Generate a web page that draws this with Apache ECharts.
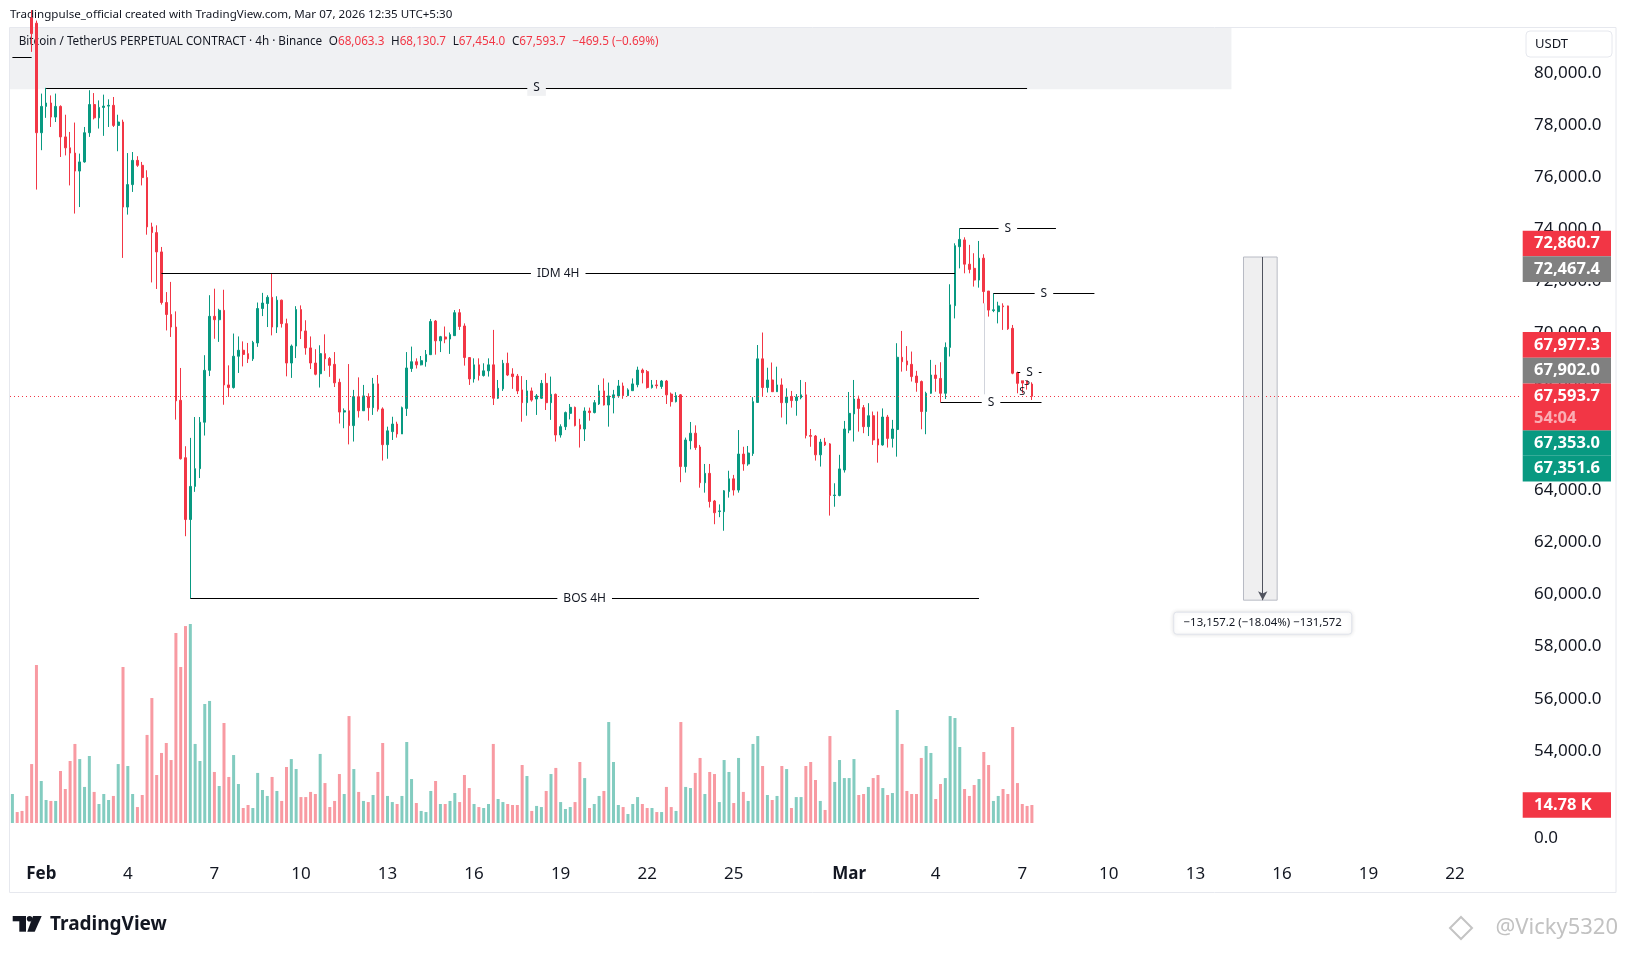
<!DOCTYPE html>
<html>
<head>
<meta charset="utf-8">
<title>BTCUSDT.P 4h - Binance</title>
<script src="https://cdn.jsdelivr.net/npm/echarts@6/dist/echarts.min.js"></script>
<style>
  html, body { margin: 0; padding: 0; background: #ffffff; }
  #main { width: 1626px; height: 954px; }
</style>
</head>
<body>
<div id="main"></div>
<script>
// 4h candles, slot 0 = Jan 31 01:30 (UTC+5:30), one line = one day
const opens = [
  83500, 84000, 83300, 82800, 82100, 81900,
  77700, 78710, 78840, 78300, 78710, 77540,
  77120, 76920, 76230, 76580, 77700, 78780,
  78270, 78670, 78720, 78750, 77980, 78110,
  74850, 75710, 76640, 76450, 75980, 74090,
  73870, 73130, 71190, 70730, 70250, 67440,
  65240, 62870, 64140, 64820, 66600, 68590,
  70660, 70530, 70890, 68030, 67930, 69130,
  69360, 69230, 69030, 69640, 70960, 71150,
  71390, 70250, 71280, 70380, 68870, 69520,
  70920, 70100, 69450, 68870, 68460, 69230,
  69040, 68820, 68130, 66990, 67040, 66470,
  67580, 67040, 67580, 67160, 68070, 67110,
  65740, 66240, 66530, 66150, 67130, 68660,
  68920, 68800, 68920, 69190, 70480, 69720,
  69870, 69790, 69920, 70800, 70290, 69080,
  68260, 68800, 68390, 68570, 68800, 67520,
  67880, 68860, 68450, 68370, 67840, 67350,
  67800, 67490, 67520, 68090, 67350, 67670,
  66110, 66430, 66940, 67170, 66500, 66340,
  67030, 66970, 67300, 67800, 67260, 67540,
  67610, 67990, 67620, 67810, 68040, 68600,
  68540, 67930, 68030, 67970, 68180, 67680,
  67390, 67650, 64900, 65890, 66180, 65650,
  64280, 64640, 63580, 63180, 63170, 63940,
  64430, 64000, 65380, 65000, 65400, 67360,
  69030, 67930, 68220, 67770, 68030, 67350,
  67590, 67430, 67540, 67650, 66090, 66070,
  65350, 65840, 65770, 63790, 63790, 64770,
  66300, 66920, 67490, 67160, 66430, 66850,
  65960, 65730, 66800, 65980, 66320, 69090,
  68950, 68820, 68370, 68160, 67010, 67710,
  68410, 68280, 67710, 69470, 71070, 73330,
  73590, 72660, 72500, 72050, 72890, 71630,
  70880, 70840, 71060, 71060, 70200, 68500,
  68400, 68350, 68063.3
];
const highs = [
  84300, 84100, 83500, 83000, 82400, 82000,
  79200, 79420, 79130, 79200, 78750, 78390,
  77730, 78090, 76900, 77920, 79330, 79220,
  78940, 79160, 78980, 79070, 78390, 78200,
  76920, 76960, 76800, 76580, 76260, 74250,
  74150, 73320, 71590, 71980, 70850, 68680,
  65680, 66000, 66800, 66800, 69170, 71470,
  71720, 70950, 71680, 68780, 70000, 69890,
  69700, 69640, 69720, 71190, 71560, 71470,
  72310, 71430, 71300, 70570, 69580, 71050,
  71080, 70510, 69890, 69400, 69550, 69970,
  69100, 69290, 68270, 67130, 68830, 67840,
  68320, 68030, 67710, 68300, 68410, 67170,
  66430, 66810, 66620, 67200, 69290, 69500,
  69050, 69140, 69370, 70560, 70520, 69910,
  70270, 70040, 70900, 70940, 70390, 69100,
  69050, 69050, 68860, 69050, 70140, 68220,
  68990, 69270, 68670, 68450, 68370, 68220,
  67930, 67680, 68220, 68480, 68350, 67700,
  66520, 67010, 67300, 67200, 66730, 67170,
  67160, 67450, 68030, 68280, 68120, 67840,
  68220, 68120, 67900, 68280, 68730, 68660,
  68600, 68220, 68220, 68220, 68220, 67740,
  67750, 67680, 66010, 66610, 66480, 65730,
  65000, 65000, 63620, 63450, 64000, 64740,
  64580, 66300, 65660, 65690, 67560, 69560,
  70040, 68690, 68890, 68730, 68280, 67900,
  67800, 67680, 68220, 68140, 66340, 66110,
  65960, 66000, 65800, 64260, 65350, 66650,
  67760, 68220, 67620, 67260, 67330, 67010,
  67010, 67130, 66880, 66690, 69630, 70100,
  69520, 69310, 68570, 68200, 67770, 68990,
  68800, 68900, 69660, 71890, 73460, 74035,
  73690, 73400, 73080, 73550, 73040, 71630,
  71543, 71220, 71160, 71070, 70330, 68540,
  68450, 68540, 68130.7
];
const lows = [
  83200, 82900, 82500, 81900, 80800, 75520,
  77030, 78270, 77920, 78110, 76770, 76830,
  75680, 74600, 74850, 76550, 77540, 78210,
  77860, 77580, 77920, 77920, 76990, 72900,
  74560, 75430, 76390, 75680, 73790, 71960,
  71710, 71110, 70120, 69870, 66700, 65170,
  62230, 59850, 63930, 64460, 66090, 68370,
  69800, 69680, 67270, 67570, 67890, 68490,
  68740, 68870, 68950, 69490, 70670, 70250,
  69930, 70020, 70230, 68360, 68300, 69060,
  69790, 69190, 68640, 68400, 67930, 68570,
  68340, 67950, 66550, 66370, 65750, 65860,
  66780, 67040, 66660, 66880, 67010, 65130,
  65200, 65920, 66010, 66150, 66840, 68530,
  68660, 68780, 68730, 69180, 69190, 69290,
  69630, 69220, 69920, 70140, 68770, 68030,
  68120, 68200, 68350, 68350, 67260, 67490,
  67800, 68370, 67880, 67680, 66620, 66850,
  67390, 66880, 67490, 67070, 66690, 65860,
  66010, 66300, 66710, 66440, 65630, 65880,
  66660, 66940, 67260, 67240, 66430, 66940,
  67540, 67500, 67600, 67800, 67940, 68090,
  67890, 67890, 67890, 67880, 67300, 67200,
  67360, 64300, 64670, 65560, 65540, 64090,
  63900, 63330, 62690, 62960, 62440, 63710,
  63790, 63900, 64740, 64930, 65310, 67350,
  67580, 67740, 67760, 67760, 66780, 66520,
  67160, 66850, 67480, 65980, 65660, 65130,
  64900, 65690, 63020, 63360, 63760, 64670,
  66180, 65860, 66240, 66180, 66070, 65730,
  65050, 65700, 65630, 65630, 65280, 68540,
  68570, 68160, 67770, 66330, 66140, 67690,
  67770, 67364, 67490, 69120, 70580, 72500,
  72310, 72310, 71800, 71760, 71160, 70650,
  70820, 70390, 70140, 70140, 68440, 67710,
  67710, 67850, 67454.0
];
const closes = [
  84000, 83300, 82800, 82200, 81500, 77700,
  78710, 78840, 78300, 78710, 77540, 77120,
  76920, 76230, 76580, 77700, 78780, 78270,
  78670, 78720, 78750, 77980, 78110, 74850,
  75710, 76640, 76450, 75980, 74090, 73870,
  73130, 71190, 70730, 70250, 67420, 65200,
  62870, 64140, 64820, 66600, 68590, 70660,
  70530, 70890, 68030, 67930, 69130, 69360,
  69200, 69030, 69660, 70960, 71170, 71390,
  70250, 71280, 70380, 68870, 69520, 70920,
  70100, 69450, 68870, 68440, 69230, 69030,
  68780, 68110, 66990, 67040, 66470, 67580,
  67040, 67610, 67160, 68070, 67100, 65740,
  66270, 66530, 66150, 67160, 68680, 68920,
  68800, 68960, 69200, 70460, 69720, 69880,
  69790, 69960, 70800, 70270, 69080, 68260,
  68800, 68390, 68570, 68800, 67520, 67900,
  68860, 68410, 68350, 67800, 67350, 67800,
  67450, 67610, 68090, 67350, 67670, 66110,
  66430, 66970, 67170, 66470, 66340, 67030,
  66970, 67350, 67800, 67260, 67610, 67650,
  67990, 67620, 67840, 68070, 68600, 68500,
  67930, 68030, 68000, 68180, 67650, 67390,
  67620, 64900, 65920, 66180, 65630, 64280,
  64640, 63560, 63130, 63200, 63970, 64430,
  64000, 65380, 65000, 65420, 67390, 69030,
  67930, 68220, 67770, 68030, 67350, 67570,
  67430, 67570, 67650, 66090, 66060, 65350,
  65840, 65730, 63790, 63810, 64810, 66340,
  66940, 67490, 67130, 66430, 66850, 65920,
  65730, 66800, 65980, 66340, 69090, 68920,
  68800, 68350, 68120, 67010, 67710, 68410,
  68280, 67710, 69470, 71100, 73370, 73610,
  72660, 72460, 72050, 72890, 71610, 70900,
  70910, 71060, 71030, 70180, 68480, 68090,
  68100, 68063, 67593.7
];
// volume in thousands of BTC
const volumes = [
  23.8, 9.0, 9.9, 22.2, 48.4, 129.7,
  34.5, 18.9, 18.1, 18.1, 42.7, 27.9,
  50.9, 64.9, 52.5, 29.6, 55.0, 25.5,
  15.6, 23.8, 18.9, 22.2, 48.4, 128.1,
  46.8, 23.8, 13.1, 23.0, 72.3, 102.6,
  39.4, 57.5, 65.7, 51.7, 156.0, 128.1,
  161.7, 163.4, 64.9, 50.9, 97.7, 100.2,
  41.9, 30.4, 82.1, 37.8, 55.8, 32.0,
  12.3, 14.8, 12.3, 41.1, 27.1, 22.2,
  37.8, 26.3, 18.1, 46.0, 52.5, 44.3,
  21.3, 21.3, 25.5, 23.8, 56.7, 32.8,
  13.1, 18.1, 40.2, 23.8, 87.8, 44.3,
  25.5, 18.1, 17.2, 23.0, 41.9, 65.7,
  22.2, 17.2, 15.6, 22.2, 66.5, 36.1,
  16.4, 9.9, 9.0, 26.3, 34.5, 15.6,
  15.6, 18.1, 24.6, 17.2, 39.4, 28.7,
  15.6, 13.1, 12.3, 15.6, 64.9, 19.7,
  17.2, 15.6, 14.8, 14.8, 47.6, 38.6,
  9.9, 14.0, 13.1, 26.3, 40.2, 45.2,
  17.2, 11.5, 13.1, 17.2, 50.1, 36.9,
  12.3, 15.6, 22.2, 26.3, 82.9, 50.1,
  14.8, 13.1, 7.4, 15.6, 21.3, 15.6,
  12.3, 12.3, 9.0, 9.0, 29.6, 13.1,
  9.9, 82.9, 29.6, 28.7, 41.1, 53.4,
  23.8, 41.9, 40.2, 17.2, 51.7, 41.9,
  16.4, 53.4, 25.5, 18.1, 64.9, 71.4,
  46.8, 23.0, 18.9, 22.2, 46.8, 44.3,
  12.3, 21.3, 21.3, 46.8, 50.1, 35.3,
  18.1, 10.7, 71.4, 33.7, 51.7, 36.9,
  36.9, 52.5, 23.0, 23.8, 29.6, 36.9,
  39.4, 28.7, 23.0, 24.6, 92.8, 64.9,
  26.3, 23.8, 23.8, 53.4, 63.2, 57.5,
  19.7, 32.0, 36.9, 87.8, 86.2, 62.4,
  27.9, 22.2, 31.2, 36.1, 58.3, 47.6,
  18.1, 22.2, 27.9, 23.8, 78.8, 32.8,
  15.6, 14.0, 14.78
];

// time axis: labels every 3 days, month names at month start
const tickLabels = ['Feb', '4', '7', '10', '13', '16', '19', '22', '25', 'Mar', '4', '7', '10', '13', '16', '19', '22'];
const tickDays = [0, 3, 6, 9, 12, 15, 18, 21, 24, 28, 31, 34, 37, 40, 43, 46, 49]; // days after Feb 1

// drawn levels (from slot, to slot, price, text)
const levelFrom = [0, 7, 31, 37, 197, 204, 193, 209];
const levelTo = [4, 211, 196, 201, 217, 225, 214, 214];
const levelPrice = [80578, 79420, 72305, 59850, 74035, 71543, 67364, 68513];
const levelText = ['', 'S', 'IDM 4H', 'BOS 4H', 'S', 'S', 'S', 'S'];

// price range measure
const measureFrom = 72935;
const measureTo = 59778;
const measureText = '\u221213,157.2 (\u221218.04%) \u2212131,572';

// right scale tags
const lastPrice = 67593.7;
const countdown = '54:04';
const tagPrices = [72860.7, 72467.4, 67977.3, 67902.0, 67353.0, 67351.6];
const tagKinds = ['down', 'gray', 'down', 'gray', 'up', 'up'];
const lastVolume = 14.78;

const FONT = "'Noto Sans', 'DejaVu Sans', sans-serif";
const UP = '#089981';
const DOWN = '#F23645';
const GRAY = '#808080';
const INK = '#131722';

const slotCount = 314;
const startMs = Date.UTC(2026, 0, 30, 20, 0); // Jan 31 01:30 UTC+5:30
const slots = [];
for (let i = 0; i < slotCount; i++) {
  slots.push(new Date(startMs + i * 4 * 3600 * 1000).toISOString().slice(0, 16));
}
const tickAt = {};
tickDays.forEach((d, k) => { tickAt[6 + d * 6] = tickLabels[k]; });

const fmt1 = v => v.toLocaleString('en-US', { minimumFractionDigits: 1, maximumFractionDigits: 1 });

const candles = opens.map((o, i) => [o, closes[i], lows[i], highs[i]]);
const volumeBars = volumes.map((v, i) => ({
  value: v,
  itemStyle: { color: closes[i] >= opens[i] ? 'rgba(8,153,129,0.5)' : 'rgba(242,54,69,0.5)' }
}));

const levelLines = levelPrice.map((p, k) => [
  {
    coord: [levelFrom[k], p],
    lineStyle: { color: '#000000', width: 1, type: 'solid' },
    label: levelText[k] ? {
      show: true, position: 'middle', distance: 0, verticalAlign: 'middle',
      formatter: levelText[k], color: INK, fontSize: 12, fontFamily: FONT,
      backgroundColor: k === 1 ? '#f0f1f3' : '#ffffff', padding: [2, 6]
    } : { show: false }
  },
  { coord: [levelTo[k], p] }
]);

const markLines = [
  // last price, dotted across the pane
  { yAxis: lastPrice, lineStyle: { color: DOWN, width: 1, type: [1, 3] }, label: { show: false } },
  ...levelLines,
  [
    { coord: [202, 71160], lineStyle: { color: '#d1d4dc', width: 1, type: 'solid' }, label: { show: false } },
    { coord: [202, 67364] }
  ],
  [
    { coord: [260, measureFrom], symbol: 'none', lineStyle: { color: '#50535e', width: 1, type: 'solid' }, label: { show: false } },
    { coord: [260, measureTo], symbol: 'arrow', symbolSize: [7, 9] }
  ]
];

const chart = echarts.init(document.getElementById('main'));

const option = {
  animation: false,
  backgroundColor: '#ffffff',
  textStyle: { fontFamily: FONT },
  grid: [
    { left: 10, right: 106, top: 28, height: 827.2 },
    { left: 10, right: 106, top: 579.4, height: 243.6 }
  ],
  xAxis: [
    {
      type: 'category', gridIndex: 0, data: slots, boundaryGap: true,
      axisLine: { show: false }, axisTick: { show: false }, splitLine: { show: false },
      axisLabel: {
        interval: (index) => tickAt[index] !== undefined,
        formatter: (value, index) => {
          const t = tickAt[index];
          if (t === undefined) return '';
          return (t === 'Feb' || t === 'Mar') ? '{m|' + t + '}' : t;
        },
        color: INK, fontSize: 17, fontFamily: FONT, margin: 10,
        rich: { m: { fontWeight: 'bold', fontSize: 17, color: INK, fontFamily: FONT } }
      }
    },
    {
      type: 'category', gridIndex: 1, data: slots, boundaryGap: true, show: false
    }
  ],
  yAxis: [
    {
      type: 'value', gridIndex: 0, position: 'right', min: 50000, max: 81715, interval: 2000,
      axisLine: { show: false }, axisTick: { show: false }, splitLine: { show: false },
      axisLabel: {
        margin: 14, color: INK, fontSize: 17, fontFamily: FONT,
        formatter: v => (v >= 52000 && v % 2000 === 0) ? fmt1(v) : ''
      }
    },
    { type: 'value', gridIndex: 1, min: 0, max: 200, show: false }
  ],
  series: [
    {
      name: 'Volume', type: 'bar', xAxisIndex: 1, yAxisIndex: 1,
      data: volumeBars, barWidth: 3, silent: true
    },
    {
      name: 'BTCUSDT.P', type: 'candlestick', xAxisIndex: 0, yAxisIndex: 0,
      data: candles, barWidth: 2.2, clip: true, silent: true, z: 3,
      itemStyle: { color: UP, color0: DOWN, borderColor: UP, borderColor0: DOWN, borderWidth: 1 },
      markLine: {
        silent: true, symbol: ['none', 'none'], animation: false,
        data: markLines
      },
      markArea: {
        silent: true, animation: false,
        itemStyle: { color: 'rgba(120,123,134,0.12)', borderColor: '#b8bbc4', borderWidth: 1 },
        data: [[{ coord: [256, measureFrom] }, { coord: [263, measureTo] }]]
      }
    }
  ]
};

chart.setOption(option);

// overlay texts and tags placed through the chart's own scales
const yPx = p => chart.convertToPixel({ yAxisIndex: 0 }, p);
const xPx = i => chart.convertToPixel({ xAxisIndex: 0 }, i);
const vPx = v => chart.convertToPixel({ yAxisIndex: 1 }, v);

const TAG_X = 1522.7;
const TAG_W = 88.3;
const TAG_H = 25.7;
const tagColor = { up: UP, down: DOWN, gray: GRAY };

// stack the tags away from the last-price tag, like the price scale does
const lastY = yPx(lastPrice);
const lastTop = lastY - TAG_H / 2;
const lastBottom = lastTop + 46.7;
const tags = tagPrices.map((p, k) => ({ p, color: tagColor[tagKinds[k]], y: yPx(p) }));
let edge = lastTop;
tags.filter(t => t.y <= lastY).sort((a, b) => b.y - a.y).forEach(t => {
  t.y = Math.min(t.y, edge - TAG_H / 2);
  edge = t.y - TAG_H / 2;
});
edge = lastBottom;
tags.filter(t => t.y > lastY).sort((a, b) => a.y - b.y).forEach(t => {
  t.y = Math.max(t.y, edge + TAG_H / 2);
  edge = t.y + TAG_H / 2;
});

const tagText = (x, y, text, color) => ({
  type: 'text', x, y, z: 101,
  style: { text, fill: color, font: 'bold 16.5px ' + FONT, verticalAlign: 'middle', align: 'left' }
});

const graphics = [];

// frame
graphics.push({
  type: 'rect', z: 0, silent: true,
  shape: { x: 9.5, y: 27.5, width: 1606.5, height: 865 },
  style: { fill: 'none', stroke: '#e6e8ee', lineWidth: 1 }
});

// legend band
graphics.push({
  type: 'rect', z: 0, silent: true,
  shape: { x: 10, y: 28, width: xPx(253) + 2.4 - 10, height: yPx(79364) - 28 },
  style: { fill: '#f0f1f3' }
});

// title lines
graphics.push({
  type: 'text', x: 10, y: 14.5, z: 1,
  style: {
    text: 'Tradingpulse_official created with TradingView.com, Mar 07, 2026 12:35 UTC+5:30',
    fill: INK, font: '11.6px ' + FONT, verticalAlign: 'middle'
  }
});
graphics.push({
  type: 'text', x: 18.7, y: 41.5, z: 1,
  style: {
    text: '{n|Bitcoin / TetherUS PERPETUAL CONTRACT \u00b7 4h \u00b7 Binance}  {n|O}{r|68,063.3}  {n|H}{r|68,130.7}  {n|L}{r|67,454.0}  {n|C}{r|67,593.7}  {r|\u2212469.5 (\u22120.69%)}',
    verticalAlign: 'middle',
    rich: {
      n: { fill: INK, font: '11.7px ' + FONT },
      r: { fill: DOWN, font: '11.7px ' + FONT }
    }
  }
});

// currency box
graphics.push({
  type: 'rect', z: 100, silent: true,
  shape: { x: 1526, y: 31, width: 86, height: 26, r: 4 },
  style: { fill: '#ffffff', stroke: '#e6e8ee', lineWidth: 1 }
});
graphics.push({
  type: 'text', x: 1535, y: 44.3, z: 101,
  style: { text: 'USDT', fill: INK, font: '13px ' + FONT, verticalAlign: 'middle' }
});

// volume scale zero
graphics.push({
  type: 'text', x: 1534, y: 838, z: 101,
  style: { text: '0.0', fill: INK, font: '17px ' + FONT, verticalAlign: 'middle' }
});

// price tags
tags.forEach(t => {
  graphics.push({ type: 'rect', z: 100, shape: { x: TAG_X, y: t.y - TAG_H / 2, width: TAG_W, height: TAG_H }, style: { fill: t.color } });
  graphics.push(tagText(1534, t.y, fmt1(t.p), '#ffffff'));
});
graphics.push({ type: 'rect', z: 100, shape: { x: TAG_X, y: lastTop, width: TAG_W, height: lastBottom - lastTop }, style: { fill: DOWN } });
graphics.push(tagText(1534, lastY, fmt1(lastPrice), '#ffffff'));
graphics.push(tagText(1534, lastY + 21.7, countdown, 'rgba(255,255,255,0.6)'));

const volY = vPx(lastVolume);
graphics.push({ type: 'rect', z: 100, shape: { x: TAG_X, y: volY - TAG_H / 2, width: TAG_W, height: TAG_H }, style: { fill: DOWN } });
graphics.push(tagText(1534, volY, lastVolume.toFixed(2) + ' K', '#ffffff'));

// small swing labels at the last candles
[[211, 68154], [210, 67770]].forEach(([s, p]) => {
  graphics.push({
    type: 'text', x: xPx(s), y: yPx(p), z: 5,
    style: { text: 'S', fill: INK, font: '11px ' + FONT, align: 'center', verticalAlign: 'middle' }
  });
});

// measure label
const mx = xPx(260);
const my = yPx(measureTo) + 23;
graphics.push({
  type: 'rect', z: 50,
  shape: { x: mx - 89, y: my - 11, width: 178, height: 22, r: 3 },
  style: { fill: '#ffffff', stroke: '#e0e3eb', lineWidth: 1, shadowBlur: 4, shadowColor: 'rgba(0,0,0,0.12)' }
});
graphics.push({
  type: 'text', x: mx, y: my, z: 51,
  style: { text: measureText, fill: INK, font: '11.4px ' + FONT, align: 'center', verticalAlign: 'middle' }
});

// TradingView logo
graphics.push({ type: 'rect', z: 1, shape: { x: 12.7, y: 916, width: 13.3, height: 5.3 }, style: { fill: INK } });
graphics.push({ type: 'rect', z: 1, shape: { x: 19.3, y: 916, width: 6.7, height: 15.7 }, style: { fill: INK } });
graphics.push({ type: 'circle', z: 1, shape: { cx: 29.6, cy: 918.7, r: 2.8 }, style: { fill: INK } });
graphics.push({ type: 'polygon', z: 1, shape: { points: [[33, 916], [41.7, 916], [34.7, 931.7], [27.3, 931.7]] }, style: { fill: INK } });
graphics.push({
  type: 'text', x: 50, y: 925, z: 1,
  style: { text: 'TradingView', fill: INK, font: 'bold 19px ' + FONT, verticalAlign: 'middle' }
});

// watermark
graphics.push({
  type: 'polygon', z: 1,
  shape: { points: [[1461, 917], [1472, 928], [1461, 939], [1450, 928]] },
  style: { fill: 'none', stroke: '#c4c4c4', lineWidth: 2 }
});
graphics.push({
  type: 'text', x: 1618, y: 928, z: 1,
  style: { text: '@Vicky5320', fill: '#c2c2c2', font: '22px ' + FONT, align: 'right', verticalAlign: 'middle' }
});

chart.setOption({ graphic: { elements: graphics } });
</script>
</body>
</html>
